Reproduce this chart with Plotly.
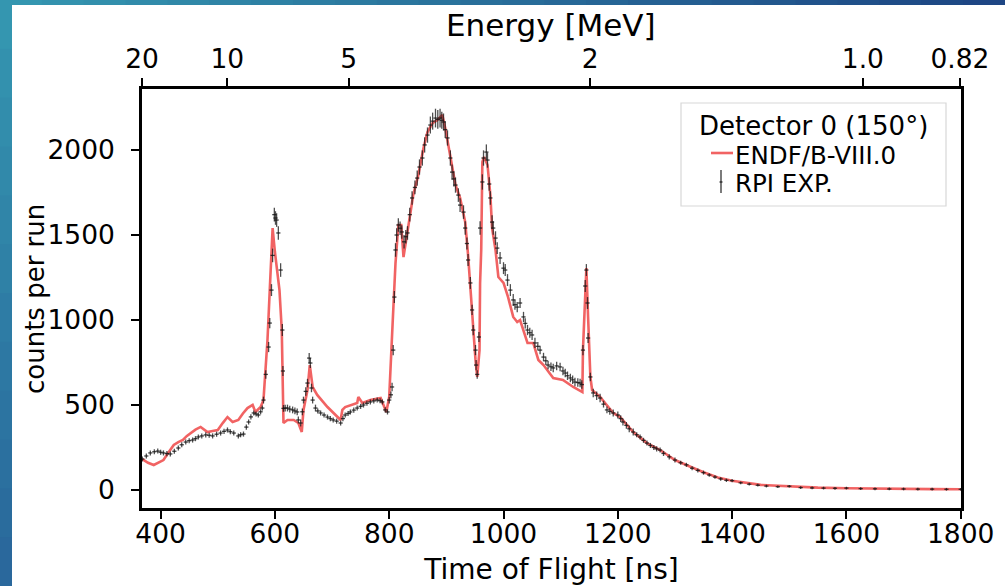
import numpy as np
import plotly.graph_objects as go

# ---------------- data ----------------
endf_tof = [368, 378, 388, 396, 405, 414, 423, 431, 439, 446, 452, 461, 470, 476, 482, 491, 500, 509, 517, 526,
            536, 544, 552, 561, 566, 570, 575, 580, 587, 591, 596, 600, 605, 608, 612, 615, 622, 633, 641, 647,
            650, 657, 661, 666, 674, 692, 715, 718, 723, 744, 746, 753, 767, 785, 795, 800, 806, 811, 816, 821,
            825, 832, 842, 851, 860, 867, 876, 884, 893, 898, 907, 916, 924, 933, 938, 945, 951, 954, 958, 959,
            961, 963, 966, 972, 977, 980, 986, 991, 1000, 1008, 1017, 1024, 1029, 1042, 1052, 1061, 1070, 1087,
            1104, 1122, 1138, 1139, 1145, 1148, 1152, 1155, 1169, 1192, 1204, 1227, 1251, 1274, 1300, 1325, 1350,
            1375, 1400, 1450, 1500, 1550, 1600, 1650, 1700, 1750, 1800]
endf_counts = [182, 160, 147, 160, 176, 222, 265, 282, 294, 318, 335, 355, 371, 355, 341, 347, 353, 395, 429, 400,
               412, 450, 482, 500, 459, 472, 488, 529, 882, 1176, 1541, 1400, 1235, 1176, 941, 394, 412, 412, 394, 341,
               471, 588, 735, 606, 559, 488, 412, 471, 488, 512, 547, 512, 529, 541, 459, 547, 982, 1335, 1559, 1559,
               1370, 1512, 1735, 1853, 2012, 2106, 2159, 2176, 2206, 2129, 1953, 1794, 1718, 1576, 1382, 1018, 765, 665, 823, 1218,
               1412, 1929, 1959, 1912, 1735, 1541, 1412, 1253, 1218, 1135, 1018, 988, 1000, 865, 865, 765, 735, 659,
               647, 606, 576, 823, 1306, 1018, 665, 588, 547, 453, 429, 341, 276, 235, 176, 140, 104,
               74, 54, 30, 20, 14, 10, 7, 6, 5, 4]

exp_tof = [368, 375, 382, 389, 395, 400, 405, 411, 417, 424, 431, 437, 444, 450, 456, 461, 466, 472, 479, 485,
           491, 498, 505, 511, 517, 522, 528, 536, 540, 545, 550, 554, 558, 563, 567, 571, 575, 578, 580, 584,
           589, 591, 594, 596, 599, 601, 603, 606, 610, 613, 614, 615, 618, 622, 626, 631, 635, 639, 641, 645,
           648, 650, 654, 657, 660, 662, 664, 666, 671, 675, 680, 686, 692, 697, 702, 708, 715, 719, 723, 728,
           732, 738, 744, 750, 755, 761, 767, 773, 779, 784, 788, 793, 797, 800, 803, 805, 807, 809, 811, 813,
           816, 819, 822, 826, 829, 832, 836, 840, 845, 849, 853, 858, 862, 867, 872, 876, 881, 885, 889, 892,
           895, 898, 902, 907, 910, 913, 916, 921, 924, 930, 933, 936, 938, 942, 945, 947, 951, 952, 954, 957,
           959, 963, 965, 970, 972, 975, 977, 980, 982, 986, 989, 994, 1000, 1003, 1007, 1012, 1017, 1020, 1024, 1029,
           1035, 1038, 1042, 1046, 1050, 1055, 1060, 1064, 1070, 1074, 1078, 1083, 1087, 1093, 1099, 1104, 1108, 1112, 1117, 1121,
           1125, 1130, 1134, 1137, 1139, 1143, 1145, 1147, 1148, 1152, 1157, 1163, 1169, 1175, 1181, 1186, 1192, 1200, 1205, 1209,
           1215, 1220, 1227, 1233, 1239, 1245, 1251, 1257, 1263, 1268, 1274, 1280, 1290, 1300, 1310, 1320, 1330, 1340, 1350, 1360,
           1370, 1380, 1390, 1400, 1415, 1430, 1445, 1460, 1480, 1500, 1520, 1540, 1560, 1580, 1600, 1625, 1650, 1675, 1700, 1725,
           1750, 1775, 1800]
exp_counts = [182, 200, 218, 225, 229, 222, 218, 214, 212, 228, 247, 266, 282, 290, 294, 302, 312, 318, 324, 322,
              318, 328, 335, 345, 353, 343, 335, 318, 325, 329, 370, 400, 430, 453, 447, 441, 460, 482, 529, 680,
              841, 982, 1176, 1380, 1620, 1600, 1588, 1512, 1294, 941, 700, 480, 482, 482, 476, 471, 465, 459, 412, 394,
              460, 529, 580, 629, 776, 747, 600, 529, 482, 465, 453, 441, 429, 420, 412, 405, 394, 420, 441, 450,
              459, 470, 482, 492, 500, 510, 518, 524, 529, 525, 518, 471, 459, 529, 560, 606, 823, 1135, 1412, 1500,
              1559, 1540, 1518, 1460, 1490, 1512, 1620, 1718, 1780, 1835, 1900, 1953, 2030, 2088, 2147, 2170, 2188, 2180, 2188, 2175,
              2165, 2120, 2071, 1953, 1870, 1830, 1794, 1735, 1676, 1635, 1541, 1450, 1353, 1218, 1059, 941, 823, 735, 680, 900,
              1541, 1812, 1953, 1988, 1941, 1800, 1718, 1576, 1541, 1482, 1423, 1365, 1305, 1294, 1235, 1176, 1118, 1090, 1076, 1100,
              1018, 980, 941, 925, 912, 865, 845, 823, 782, 760, 735, 725, 718, 730, 724, 700, 688, 672, 659, 648,
              635, 632, 629, 620, 823, 1200, 1294, 1100, 894, 665, 571, 555, 541, 505, 471, 462, 453, 441, 420, 400,
              380, 360, 341, 325, 312, 292, 276, 262, 250, 242, 235, 215, 195, 176, 160, 148, 128, 115, 102, 88,
              76, 65, 57, 55, 42, 34, 28, 23, 19, 22, 14, 12, 11, 10, 11, 8, 7, 6, 6, 5,
              5, 4, 4]
exp_err = [15, 15, 15, 15, 15, 15, 15, 15, 15, 15, 15, 15, 15, 15, 15, 15, 15, 15, 15, 15,
           15, 15, 15, 15, 15, 15, 15, 15, 15, 15, 15, 15, 15, 15, 15, 15, 15, 15, 20, 25,
           30, 30, 35, 40, 40, 40, 40, 40, 40, 35, 30, 20, 20, 20, 20, 20, 20, 20, 20, 20,
           20, 20, 25, 25, 30, 30, 25, 20, 20, 15, 15, 15, 15, 15, 15, 15, 15, 15, 15, 15,
           15, 15, 15, 15, 15, 15, 15, 15, 15, 15, 15, 15, 15, 20, 20, 25, 30, 35, 40, 40,
           40, 40, 40, 40, 40, 40, 40, 40, 40, 45, 45, 45, 45, 45, 50, 50, 55, 55, 55, 50,
           50, 50, 45, 45, 45, 45, 45, 40, 40, 40, 40, 35, 35, 35, 30, 30, 30, 30, 25, 30,
           40, 45, 45, 45, 45, 40, 40, 40, 40, 40, 35, 35, 35, 35, 35, 35, 35, 30, 30, 30,
           30, 30, 30, 30, 30, 30, 25, 25, 25, 25, 25, 25, 25, 25, 25, 25, 25, 25, 25, 25,
           25, 25, 25, 25, 30, 35, 35, 35, 30, 25, 25, 25, 25, 20, 20, 20, 20, 20, 20, 20,
           20, 20, 20, 15, 15, 15, 15, 15, 15, 15, 15, 15, 15, 15, 12, 12, 12, 12, 12, 10,
           10, 10, 10, 10, 8, 8, 8, 8, 8, 8, 8, 8, 8, 8, 8, 8, 8, 8, 8, 8,
           8, 8, 8]

x_ticks = [400, 600, 800, 1000, 1200, 1400, 1600, 1800]
y_ticks = [0, 500, 1000, 1500, 2000]
energy_ticks_mev = [20, 10, 5, 2, 1.0, 0.82]
energy_tick_text = ["20", "10", "5", "2", "1.0", "0.82"]

# time-of-flight for the energy axis (relativistic neutron, flight path L/c in ns, time offset)
L_OVER_C_NS = 75.22
T0_NS = -2.9
M_N = 939.565


def tof_from_energy(e_mev):
    gamma = 1.0 + e_mev / M_N
    beta = np.sqrt(1.0 - 1.0 / gamma ** 2)
    return L_OVER_C_NS / beta + T0_NS


energy_tick_pos = [float(tof_from_energy(e)) for e in energy_ticks_mev]

X_RANGE = [energy_tick_pos[0] - 0.01, 1800.5]
Y_RANGE = [-106, 2359]

# ---------------- geometry helpers (pixel -> paper) ----------------
W, H = 1005, 586
ML, MR, MT, MB = 142, 44, 89, 78
PW, PH = W - ML - MR, H - MT - MB


def xp(px):
    return (px - ML) / PW


def yp(py):
    return (H - MB - py) / PH


FONT = "DejaVu Sans"
RED = "rgba(238,60,60,0.8)"
BLK = "rgba(20,20,20,0.8)"

fig = go.Figure()

fig.add_trace(go.Scatter(
    x=endf_tof, y=endf_counts, mode="lines", name="ENDF/B-VIII.0",
    line=dict(color=RED, width=2.6), showlegend=False,
))
fig.add_trace(go.Scatter(
    x=exp_tof, y=exp_counts, mode="markers", name="RPI EXP.",
    marker=dict(symbol="line-ew", size=3, color=BLK, line=dict(width=1.3, color=BLK)),
    error_y=dict(type="data", array=exp_err, visible=True, color="rgba(20,20,20,0.75)",
                 thickness=1.3, width=0),
    showlegend=False,
))
# invisible trace to attach the top (energy) axis
fig.add_trace(go.Scatter(x=[1000], y=[0], xaxis="x2", mode="markers",
                         marker=dict(opacity=0), showlegend=False, hoverinfo="skip"))

shapes = []
# slide background strips (gradient approximated by bands)
c_left_top = np.array([52, 150, 176])
c_left_bot = np.array([42, 104, 156])
c_top_right = np.array([30, 70, 132])
nb = 12
for i in range(nb):
    f = i / (nb - 1)
    c = (c_left_top * (1 - f) + c_left_bot * f).astype(int)
    shapes.append(dict(type="rect", xref="paper", yref="paper", layer="below",
                       x0=xp(0), x1=xp(12), y0=yp(i * H / nb), y1=yp((i + 1) * H / nb + 1),
                       fillcolor=f"rgb({c[0]},{c[1]},{c[2]})", line=dict(width=0)))
nt = 24
for i in range(nt):
    f = i / (nt - 1)
    c = (c_left_top * (1 - f) + c_top_right * f).astype(int)
    shapes.append(dict(type="rect", xref="paper", yref="paper", layer="below",
                       x0=xp(i * W / nt), x1=xp((i + 1) * W / nt + 1), y0=yp(0), y1=yp(5),
                       fillcolor=f"rgb({c[0]},{c[1]},{c[2]})", line=dict(width=0)))

# legend box (drawn manually)
bx0, bx1, by0, by1 = xp(681), xp(946), yp(103), yp(206)
shapes.append(dict(type="rect", xref="paper", yref="paper", x0=bx0, x1=bx1, y0=by1, y1=by0,
                   line=dict(color="rgb(215,215,215)", width=1.2), fillcolor="rgba(255,255,255,0.85)"))
shapes.append(dict(type="line", xref="paper", yref="paper", x0=xp(711), x1=xp(733), y0=yp(153), y1=yp(153),
                   line=dict(color=RED, width=2.6)))
shapes.append(dict(type="line", xref="paper", yref="paper", x0=xp(721), x1=xp(721), y0=yp(170), y1=yp(193),
                   line=dict(color=BLK, width=1.4)))
shapes.append(dict(type="line", xref="paper", yref="paper", x0=xp(719.5), x1=xp(722.5), y0=yp(182), y1=yp(182),
                   line=dict(color=BLK, width=1.4)))

annotations = [
    dict(text="Detector 0 (150°)", xref="paper", yref="paper", x=xp(813), y=yp(126),
         xanchor="center", yanchor="middle", showarrow=False, borderpad=0,
         font=dict(family=FONT, size=26, color="black")),
    dict(text="ENDF/B-VIII.0", xref="paper", yref="paper", x=xp(734), y=yp(155),
         xanchor="left", yanchor="middle", showarrow=False, borderpad=0,
         font=dict(family=FONT, size=24.5, color="black")),
    dict(text="RPI EXP.", xref="paper", yref="paper", x=xp(734), y=yp(183),
         xanchor="left", yanchor="middle", showarrow=False, borderpad=0,
         font=dict(family=FONT, size=24.5, color="black")),
    # top axis title
    dict(text="Energy [MeV]", xref="paper", yref="paper", x=xp(551), y=yp(25),
         xanchor="center", yanchor="middle", showarrow=False, borderpad=0,
         font=dict(family=FONT, size=31, color="black")),
    # left axis title
    dict(text="counts per run", xref="paper", yref="paper", x=xp(35), y=yp(299), textangle=-90,
         xanchor="center", yanchor="middle", showarrow=False, borderpad=0,
         font=dict(family=FONT, size=26, color="black")),
]

TICKF = 26.5
axis_common = dict(showgrid=False, zeroline=False, linecolor="black", linewidth=2.5,
                   ticks="outside", ticklen=8, tickwidth=2, tickcolor="black",
                   tickfont=dict(family=FONT, size=TICKF, color="black"), automargin=False)

fig.update_layout(
    width=W, height=H,
    margin=dict(l=ML, r=MR, t=MT, b=MB),
    paper_bgcolor="white", plot_bgcolor="white",
    font=dict(family=FONT, color="black"),
    shapes=shapes, annotations=annotations,
    xaxis=dict(range=X_RANGE, tickvals=x_ticks, showline=True, mirror=False, ticklabelstandoff=-8,
               title=dict(text="Time of Flight [ns]", font=dict(family=FONT, size=28), standoff=12),
               **axis_common),
    xaxis2=dict(range=X_RANGE, overlaying="x", side="top", anchor="y", tickvals=energy_tick_pos,
                ticktext=energy_tick_text, showline=True, **axis_common),
    yaxis=dict(range=Y_RANGE, tickvals=y_ticks, showline=True, mirror=True, ticklabelstandoff=11,
               **axis_common),
    showlegend=False,
)

fig.write_html("out.html", config={"displayModeBar": False},
               post_script="document.body.style.margin='0px';document.body.style.overflow='hidden';")
